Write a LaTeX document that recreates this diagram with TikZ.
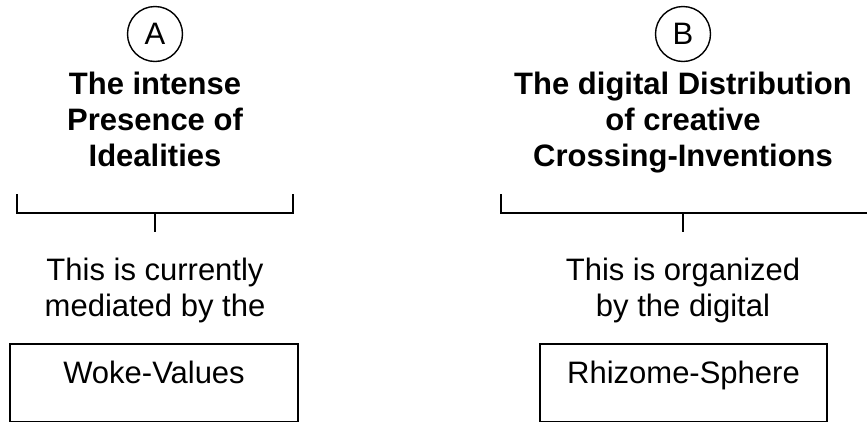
\documentclass[tikz,border=0pt]{standalone}
\usepackage{fontspec}
\setmainfont{Liberation Sans}
\begin{document}
\begin{tikzpicture}[x=1pt,y=1pt,
  lbl/.style={circle,draw,line width=1.4pt,minimum size=55pt,inner sep=0pt,font=\fontsize{31}{36}\selectfont},
  ttl/.style={font=\bfseries\fontsize{31}{36}\selectfont,align=center,anchor=north,inner sep=0pt},
  bodytxt/.style={font=\fontsize{31}{36}\selectfont,align=center,anchor=north,inner sep=0pt},
  brk/.style={line width=1.4pt},
  medbox/.style={draw,line width=1.8pt,anchor=north,inner sep=0pt,minimum height=77.5pt,text height=22.2pt,text depth=19.7pt,font=\fontsize{31}{36}\selectfont}]
\useasboundingbox (0,0) rectangle (867,-421);
% Column A
\node[lbl] (circA) at (155,-34) {A};
\node[ttl] (titleA) at (155,-72) {The intense\\Presence of\\Idealities};
\coordinate (brAl) at (17,-194);
\coordinate (brAr) at (293,-194);
\coordinate (brAm) at (155,-213);
\coordinate (tickA) at (155,-232);
\draw[brk] (brAl) |- (brAr |- brAm) -- (brAr);
\draw[brk] (brAm) -- (tickA);
\node[bodytxt] (textA) at (155,-258) {This is currently\\mediated by the};
\node[medbox,minimum width=288pt] (boxA) at (154,-343) {Woke-Values};
% Column B
\node[lbl] (circB) at (683,-34) {B};
\node[ttl] (titleB) at (683,-72) {The digital Distribution\\of creative\\Crossing-Inventions};
\coordinate (brBl) at (501,-194);
\coordinate (brBr) at (875,-213);
\coordinate (brBm) at (683,-213);
\coordinate (tickB) at (683,-232);
\draw[brk] (brBl) |- (brBr);
\draw[brk] (brBm) -- (tickB);
\node[bodytxt] (textB) at (683,-258) {This is organized\\by the digital};
\node[medbox,minimum width=287pt] (boxB) at (683.5,-343) {Rhizome-Sphere};
\end{tikzpicture}
\end{document}
